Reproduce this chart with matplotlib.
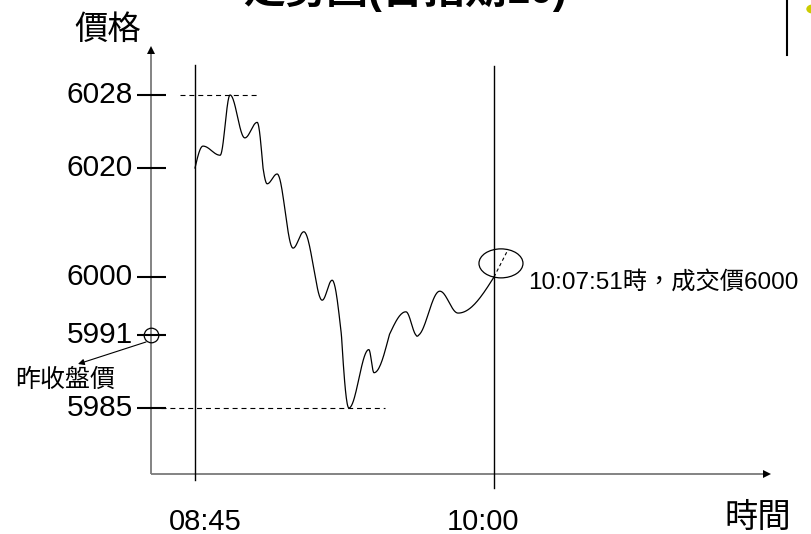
import numpy as np
import matplotlib
matplotlib.use("Agg")
import matplotlib.pyplot as plt
from matplotlib.patches import Ellipse, Circle
from matplotlib.transforms import ScaledTranslation

# ---- data -------------------------------------------------------------
price_ticks = [6028, 6020, 6000, 5991, 5985]
time_ticks = ["08:45", "10:00"]
time_tick_minutes = [0, 75]          # minutes after 08:45

# intraday trace: turning points (minutes after 08:45, price)
trace_minutes = [0, 2.0, 6.3, 8.8, 12.5, 15.6, 18.1, 20.6, 24.6, 27.3,
                 31.9, 34.4, 38.6, 43.6, 44.9, 52.9, 55.7, 61.4, 66.0, 75.0]
trace_prices = [6020, 6022.4, 6021.4, 6028, 6023.3, 6025.0, 6017.1, 6018.9,
                6005.3, 6008.3, 5996.4, 5999.5, 5985, 5989.8, 5987.9,
                5994.6, 5990.9, 5997.8, 5994.4, 6000]
# projected continuation after the last trade
trend_minutes = [75.0, 78.5]
trend_prices = [6000, 6005]

prev_close = 5991
last_trade_time = "10:07:51"
last_trade_price = 6000

title = "走勢圖(台指期10)"

# ---- layout -----------------------------------------------------------
W, H = 811, 534
PX_PER_MIN = 299 / 75.0
X0_PX = 195                      # pixel column of 08:45

# schematic (non-uniform) price axis: price anchors -> pixel rows
anchor_prices = np.array([5950, 5985, 5991, 6000, 6020, 6028, 6060])
anchor_rows = np.array([408 + 35 * 73 / 6, 408, 335, 277, 168, 95, 95 - 32 * 73 / 8])


def fwd(p):
    return np.interp(p, anchor_prices, -anchor_rows)


def inv(v):
    return np.interp(v, -anchor_rows, anchor_prices)


def fx(px):
    return px / W


def fy(py):
    return 1 - py / H


CJK = ["Noto Sans CJK TC"]
MIX = ["Liberation Sans", "Noto Sans CJK TC"]

fig = plt.figure(figsize=(W / 100, H / 100), dpi=100)
ax = fig.add_axes([0, 0, 1, 1])
ax.set_axis_off()
ax.set_yscale("function", functions=(fwd, inv))
ax.set_xlim(-X0_PX / PX_PER_MIN, (W - X0_PX) / PX_PER_MIN)
ax.set_ylim(inv(-H), inv(0))

yt = ax.get_yaxis_transform()   # x: axes fraction, y: price
xt = ax.get_xaxis_transform()   # x: minutes, y: axes fraction

# axes with arrow heads
axis_x, axis_y = fx(151), fy(473.5)
ax.plot([axis_x, fx(768)], [axis_y, axis_y], transform=ax.transAxes,
        color="#7a7a7a", lw=1.3, solid_capstyle="butt")
ax.plot([axis_x, axis_x], [axis_y, fy(50)], transform=ax.transAxes,
        color="#7a7a7a", lw=1.3, solid_capstyle="butt")
ax.plot([fx(767)], [axis_y], transform=ax.transAxes, marker=">", ms=6,
        color="black", mew=0)
ax.plot([axis_x], [fy(50)], transform=ax.transAxes, marker="^", ms=6,
        color="black", mew=0)

# price ticks and labels
for p in price_ticks:
    ax.plot([fx(137), fx(166)], [p, p], transform=yt, color="black", lw=1.5,
            solid_capstyle="butt")
    ax.text(fx(133), p, str(p), transform=yt, ha="right", va="center",
            fontsize=21.5, family=MIX)

# vertical time lines
ax.plot([time_tick_minutes[0]] * 2, [fy(480), fy(65)], transform=xt,
        color="black", lw=1.0)
ax.plot([time_tick_minutes[1]] * 2, [fy(488), fy(66)], transform=xt,
        color="black", lw=1.0)
label_px = [205, 483]
for lab, px in zip(time_ticks, label_px):
    fig.text(fx(px), fy(522), lab, ha="center", va="center", fontsize=21,
             family=MIX)

# high / low reference lines
hi, lo = max(trace_prices), min(trace_prices)
ax.plot([fx(180), fx(259)], [hi, hi], transform=yt, color="black", lw=0.8,
        dashes=(4.5, 3.5))
ax.plot([fx(161), fx(385)], [lo, lo], transform=yt, color="black", lw=0.8,
        dashes=(4.5, 3.5))

# smooth trace between turning points
xs, ys = [], []
n = len(trace_minutes)
for i in range(n - 1):
    s = np.linspace(0, 1, 40)
    if i == 0:
        e = np.sin(np.pi * s / 2)
    elif i == n - 2:
        e = 1 - np.cos(np.pi * s / 2)
    else:
        e = (1 - np.cos(np.pi * s)) / 2
    t0, t1 = trace_minutes[i], trace_minutes[i + 1]
    p0, p1 = trace_prices[i], trace_prices[i + 1]
    xs.append(t0 + (t1 - t0) * s)
    ys.append(p0 + (p1 - p0) * e)
ax.plot(np.concatenate(xs), np.concatenate(ys), color="black", lw=0.9)
ax.plot(trend_minutes, trend_prices, color="black", lw=0.8, dashes=(3, 2.5))

# ellipse around the latest trade
cx = np.mean(trend_minutes)
cy = inv(np.mean(fwd(np.array(trend_prices))))
ell = Ellipse((0, 0), 0.44, 0.29, fill=False, ec="black", lw=0.9,
              transform=fig.dpi_scale_trans + ScaledTranslation(cx, cy, ax.transData))
ax.add_patch(ell)
fig.text(fx(528), fy(282), f"{last_trade_time}時，成交價{last_trade_price}",
         ha="left", va="center", fontsize=17.5, family=MIX)

# previous close marker and label
ax.plot([axis_x], [prev_close], transform=yt, marker="o", ms=10.5,
        mfc="none", mec="black", mew=0.9)
ax.annotate("", xy=(fx(78), fy(364)), xycoords="axes fraction",
            xytext=(fx(146), fy(342)), textcoords="axes fraction",
            arrowprops=dict(arrowstyle="-|>", color="black", lw=0.8,
                            mutation_scale=9, shrinkA=0, shrinkB=0))
fig.text(fx(65), fy(380), "昨收盤價", ha="center", va="center",
         fontsize=18, family=CJK)

# axis titles
fig.text(fx(108), fy(29), "價格", ha="center", va="center", fontsize=24,
         family=CJK)
fig.text(fx(758), fy(517), "時間", ha="center", va="center", fontsize=24,
         family=CJK)

# slide title (runs off the top edge)
fig.text(fx(405), fy(3), title, ha="center", va="baseline", fontsize=30,
         fontweight="bold", family=MIX)

# frame fragment and bullet at the top-right corner
ax.plot([fx(787), fx(787)], [1, fy(55)], transform=ax.transAxes,
        color="black", lw=1.5)
ax.add_patch(Circle((fx(813), fy(9)), 6 / W, transform=ax.transAxes,
                    color="#cccc00", clip_on=False))

fig.savefig("out.png", dpi=100)
